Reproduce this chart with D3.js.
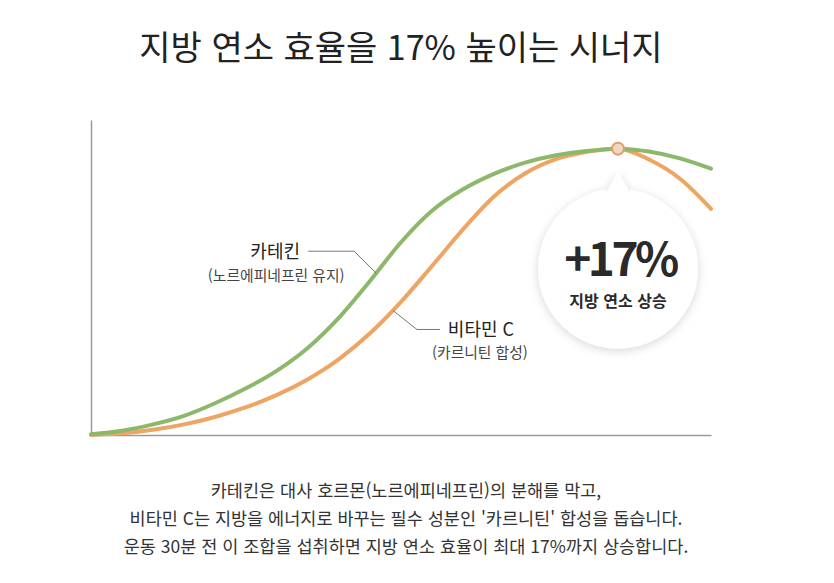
<!DOCTYPE html>
<html lang="ko">
<head>
<meta charset="utf-8">
<script src="https://cdn.jsdelivr.net/npm/d3@7"></script>
<style>
  html, body { margin: 0; padding: 0; background: #fff; }
  body { width: 834px; height: 583px; overflow: hidden; font-family: "Noto Sans CJK KR", "Noto Sans", sans-serif; }
  .title { font-size: 34px; fill: #222; }
  .caption { font-size: 17.5px; fill: #333; }
  .label-main { font-size: 18px; fill: #222; }
  .label-sub { font-size: 14.8px; fill: #444; }
</style>
</head>
<body>
<div id="chart"></div>
<script>
// Fat burning synergy - two curves with a peak bubble

// x positions (relative timeline) and the two curves
const timeline = [0, 5, 10, 15, 20, 25, 30, 35, 40, 45, 50, 55, 60, 65, 70, 75, 80, 85, 90, 95, 100];
const catechin = [0.3, 1.5, 3.7, 6.7, 11.1, 16.3, 22.5, 30.5, 41.0, 53.8, 67.3, 78.3, 85.8, 91.2, 95.1, 97.7, 99.2, 100, 99.0, 96.6, 93.0];
const vitaminC = [0, 0.6, 1.8, 3.7, 6.3, 9.7, 14.0, 19.5, 26.5, 35.5, 46.5, 59.0, 71.8, 83.3, 91.3, 96.3, 98.9, 100, 96.2, 89.5, 79.0];

const titleText = '지방 연소 효율을 17% 높이는 시너지';
const captionLines = [
    '카테킨은 대사 호르몬(노르에피네프린)의 분해를 막고,',
    "비타민 C는 지방을 에너지로 바꾸는 필수 성분인 '카르니틴' 합성을 돕습니다.",
    '운동 30분 전 이 조합을 섭취하면 지방 연소 효율이 최대 17%까지 상승합니다.'
];
const peakX = 85;
const peakValue = 100;
const peakLabel = '+17%';
const peakSub = '지방 연소 상승';

const series = [
    { key: 'catechin', values: catechin, color: '#8cb86b', title: '카테킨', sub: '(노르에피네프린 유지)', anchorX: 46 },
    { key: 'vitaminC', values: vitaminC, color: '#eea463', title: '비타민 C', sub: '(카르니틴 합성)', anchorX: 48.7 }
];

const W = 834, H = 583;
const svg = d3.select('#chart').append('svg')
    .attr('width', W)
    .attr('height', H);

// Shadow for the bubble
const defs = svg.append('defs');
const shadow = defs.append('filter')
    .attr('id', 'soft')
    .attr('x', '-30%').attr('y', '-30%')
    .attr('width', '160%').attr('height', '160%');
shadow.append('feDropShadow')
    .attr('dx', 0).attr('dy', 2)
    .attr('stdDeviation', 5)
    .attr('flood-color', '#000')
    .attr('flood-opacity', 0.16);

// Title
svg.append('text')
    .attr('class', 'title')
    .attr('x', 401)
    .attr('y', 60)
    .attr('text-anchor', 'middle')
    .text(titleText);

// Scales
const x = d3.scaleLinear().domain([0, 100]).range([91, 711]);
const y = d3.scaleLinear().domain([0, 110]).range([435, 120]);

// Axes (domain lines only)
svg.append('g')
    .attr('transform', `translate(0,${y(0)})`)
    .call(d3.axisBottom(x).ticks(0).tickSizeOuter(0))
    .call(g => g.select('.domain').attr('stroke', '#9a9a9a').attr('stroke-width', 1.5));

svg.append('g')
    .attr('transform', `translate(${x(0)},0)`)
    .call(d3.axisLeft(y).ticks(0).tickSizeOuter(0))
    .call(g => g.select('.domain').attr('stroke', '#9a9a9a').attr('stroke-width', 1.5));

// Lines
const line = d3.line()
    .x((d, i) => x(timeline[i]))
    .y(d => y(d))
    .curve(d3.curveMonotoneX);

const paths = {};
series.slice().reverse().forEach(s => {
    paths[s.key] = svg.append('path')
        .datum(s.values)
        .attr('fill', 'none')
        .attr('stroke', s.color)
        .attr('stroke-width', 4)
        .attr('stroke-linecap', 'round')
        .attr('d', line);
});

// find the point of a path at a given x position
function pointAtX(pathNode, px) {
    let lo = 0, hi = pathNode.getTotalLength();
    for (let k = 0; k < 40; k++) {
        const mid = (lo + hi) / 2;
        if (pathNode.getPointAtLength(mid).x < px) lo = mid; else hi = mid;
    }
    return pathNode.getPointAtLength(lo);
}

// Annotations with leader lines
const leaderOffsets = {
    catechin: { elbow: [-22, -22], end: [-68, -22], text: [-101, -15], sub: [-100, 8] },
    vitaminC: { elbow: [24, 19], end: [47, 19], text: [88, 26], sub: [87, 48] }
};

series.forEach(s => {
    const p = pointAtX(paths[s.key].node(), x(s.anchorX));
    const o = leaderOffsets[s.key];
    svg.append('polyline')
        .attr('points', [[p.x, p.y], [p.x + o.elbow[0], p.y + o.elbow[1]], [p.x + o.end[0], p.y + o.end[1]]].join(' '))
        .attr('fill', 'none')
        .attr('stroke', '#777')
        .attr('stroke-width', 1);
    svg.append('text')
        .attr('class', 'label-main')
        .attr('x', p.x + o.text[0])
        .attr('y', p.y + o.text[1])
        .attr('text-anchor', 'middle')
        .text(s.title);
    svg.append('text')
        .attr('class', 'label-sub')
        .attr('x', p.x + o.sub[0])
        .attr('y', p.y + o.sub[1])
        .attr('text-anchor', 'middle')
        .text(s.sub);
});

// Bubble below the peak
const px = x(peakX), py = y(peakValue);
const cy = py + 120, r = 80;
const bubble = d3.path();
bubble.moveTo(px - 12, cy - r + 4);
bubble.lineTo(px, py + 23);
bubble.lineTo(px + 12, cy - r + 4);
bubble.arc(px, cy, r, -Math.PI / 2 + 0.15, 3 * Math.PI / 2 - 0.15);
bubble.closePath();

svg.append('path')
    .attr('d', bubble.toString())
    .attr('fill', '#fff')
    .attr('filter', 'url(#soft)');

svg.append('text')
    .attr('x', px + 2)
    .attr('y', cy + 7)
    .attr('text-anchor', 'middle')
    .style('font-size', '46px')
    .style('font-weight', 700)
    .style('letter-spacing', '-3.5px')
    .style('fill', '#2a2a2a')
    .text(peakLabel);

svg.append('text')
    .attr('x', px)
    .attr('y', cy + 38)
    .attr('text-anchor', 'middle')
    .style('font-size', '16px')
    .style('font-weight', 700)
    .style('fill', '#2a2a2a')
    .text(peakSub);

// Peak marker
svg.append('circle')
    .attr('cx', px)
    .attr('cy', py)
    .attr('r', 6)
    .attr('fill', '#f3d6bd')
    .attr('stroke', '#d9a06c')
    .attr('stroke-width', 2);

// Caption
svg.selectAll('.caption')
    .data(captionLines)
    .enter()
    .append('text')
    .attr('class', 'caption')
    .attr('x', 406)
    .attr('y', (d, i) => 497 + i * 28)
    .attr('text-anchor', 'middle')
    .text(d => d);
</script>
</body>
</html>
